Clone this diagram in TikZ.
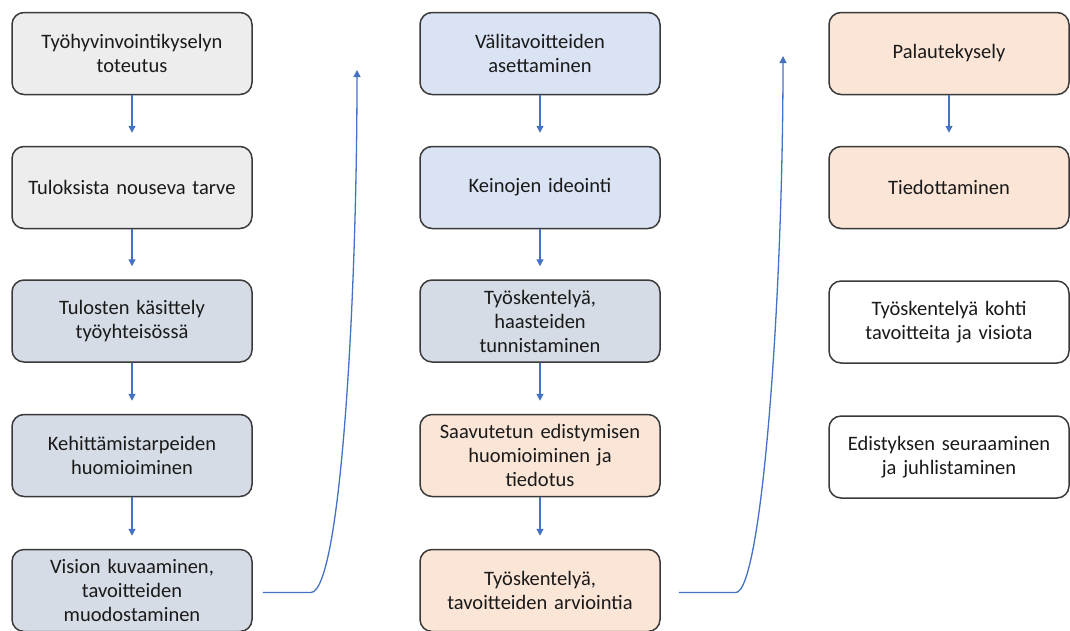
\documentclass[tikz,border=0pt]{standalone}
\usepackage{fontspec}
\setmainfont{Carlito}
\usetikzlibrary{arrows.meta}
\definecolor{grayfill}{HTML}{EDEDED}
\definecolor{bluegray}{HTML}{D6DCE5}
\definecolor{lightblue}{HTML}{DAE3F3}
\definecolor{peach}{HTML}{FBE5D6}
\definecolor{arrowblue}{HTML}{4472C4}
\definecolor{edge}{HTML}{3A3A3A}
\definecolor{txt}{HTML}{1A1A1A}
\tikzset{
  box/.style={draw=edge, line width=1.5pt, rounded corners=12pt, minimum width=240pt, minimum height=82pt,
    text width=230pt, align=center, inner sep=0pt, text=txt,
    font=\fontsize{20.5}{24}\selectfont},
  arr/.style={draw=arrowblue, line width=1.3pt, -{Triangle[width=7pt,length=7pt]}},
}
\begin{document}
\begin{tikzpicture}[x=1pt,y=-1pt]
\useasboundingbox (0,0) rectangle (1070,630);
\fill[white] (0,0) rectangle (1070,630);
% column 1
\node[box, fill=grayfill] (a1) at (132,53.5) {Työhyvinvointikyselyn\\toteutus};
\node[box, fill=grayfill] (a2) at (132,187.5) {Tuloksista nouseva tarve};
\node[box, fill=bluegray] (a3) at (132,321) {Tulosten käsittely\\työyhteisössä};
\node[box, fill=bluegray] (a4) at (132,455.5) {Kehittämistarpeiden\\huomioiminen};
\node[box, fill=bluegray] (a5) at (132,590.5) {Vision kuvaaminen,\\tavoitteiden\\muodostaminen};
% column 2
\node[box, fill=lightblue] (b1) at (540,53.5) {Välitavoitteiden\\asettaminen};
\node[box, fill=lightblue] (b2) at (540,187.5) {Keinojen ideointi};
\node[box, fill=bluegray] (b3) at (540,321) {Työskentelyä,\\haasteiden\\tunnistaminen};
\node[box, fill=peach] (b4) at (540,455.5) {Saavutetun edistymisen\\huomioiminen ja\\tiedotus};
\node[box, fill=peach] (b5) at (540,590.5) {Työskentelyä,\\tavoitteiden arviointia};
% column 3
\node[box, fill=peach] (c1) at (949,53.5) {Palautekysely};
\node[box, fill=peach] (c2) at (949,187.5) {Tiedottaminen};
\node[box, fill=white] (c3) at (949,322) {Työskentelyä kohti\\tavoitteita ja visiota};
\node[box, fill=white] (c4) at (949,457) {Edistyksen seuraaminen\\ja juhlistaminen};
% short arrows
\foreach \s/\t in {a1/a2,a2/a3,a3/a4,a4/a5,b1/b2,b2/b3,b3/b4,b4/b5,c1/c2}
  \draw[arr] (\s.south) -- ([yshift=13pt]\t.north);
% long curved connectors
\coordinate (top1) at (357,70);
\coordinate (top2) at (783,56);
\draw[arr] ([xshift=10pt,yshift=-2pt]a5.east) -- ++(48,0) .. controls +(30,0) and (357,300) .. (top1);
\draw[arr] ([xshift=18pt,yshift=-2pt]b5.east) -- ++(57,0) .. controls +(26,0) and (783,300) .. (top2);
\end{tikzpicture}
\end{document}
